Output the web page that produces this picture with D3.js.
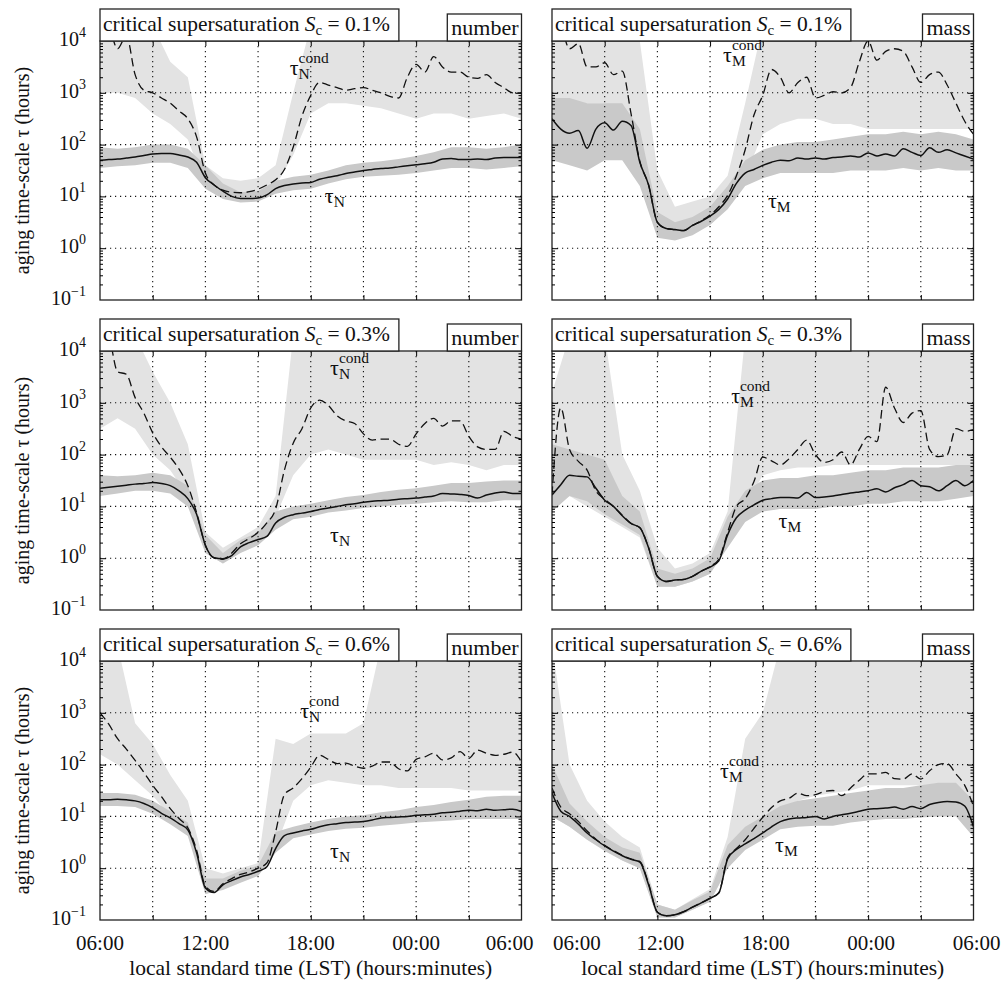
<!DOCTYPE html>
<html>
<head>
<meta charset="utf-8">
<script src="https://cdn.jsdelivr.net/npm/d3@7/dist/d3.min.js"></script>
<style>
    body { margin: 0; background: #fff; }
    svg text { font-family: "Liberation Serif", "Times New Roman", serif; fill: #111; }
</style>
</head>
<body>
<svg id="chart" width="1002" height="982"></svg>
<script>
// time axis: hours after 06:00 LST; curves read every half hour, gray bands every hour
var halfHours = d3.range(0, 24.5, 0.5);
var wholeHours = d3.range(0, 25, 1);
var tickHours = [0, 6, 12, 18, 24];
var tickNames = ["06:00", "12:00", "18:00", "00:00", "06:00"];
var gridHours = [3, 6, 9, 12, 15, 18, 21];
var decades = [-1, 0, 1, 2, 3, 4];
var supersat = ["0.1", "0.3", "0.6"];
var kinds = ["number", "mass"];
var subs = ["N", "M"];

// every value below is log10 of the aging time-scale in hours

// Sc = 0.1 %, number
var lgTauN01 = [1.70,1.71,1.72,1.74,1.76,1.79,1.82,1.83,1.83,1.80,1.76,1.66,1.36,1.22,1.10,1.00,0.96,0.96,0.97,1.03,1.15,1.21,1.24,1.26,1.27,1.33,1.37,1.40,1.44,1.47,1.50,1.52,1.54,1.55,1.57,1.59,1.61,1.63,1.66,1.72,1.73,1.71,1.71,1.72,1.71,1.74,1.75,1.75,1.75];
var lgCondN01 = [4.5,4.3,3.85,4.1,3.35,3.05,3.0,2.9,2.8,2.65,2.5,2.15,1.45,1.22,1.12,1.08,1.07,1.09,1.14,1.22,1.32,1.52,1.95,2.55,2.95,3.2,3.15,3.1,3.05,3.08,3.1,3.05,3.0,2.93,2.9,3.3,3.55,3.4,3.7,3.5,3.4,3.4,3.3,3.28,3.35,3.2,3.1,3.0,3.0];
var condLoN01 = [3.0,3.0,2.9,2.6,2.4,2.1,1.2,1.0,0.95,1.0,1.2,1.8,2.6,2.8,2.8,2.75,2.7,2.6,2.5,2.6,2.6,2.5,2.55,2.6,2.5];
var condHiN01 = [4.3,4.3,4.3,4.3,3.6,3.3,1.6,1.35,1.3,1.35,1.6,3.0,4.3,4.3,4.3,4.3,4.3,4.3,4.3,4.3,4.3,4.3,4.3,4.3,4.3];
var tauLoN01 = [1.55,1.58,1.6,1.65,1.65,1.55,1.15,0.95,0.88,0.9,1.05,1.12,1.15,1.25,1.33,1.38,1.4,1.42,1.45,1.5,1.55,1.55,1.52,1.55,1.58];
var tauHiN01 = [1.95,1.92,1.95,2.0,2.0,1.92,1.6,1.25,1.08,1.1,1.3,1.38,1.42,1.5,1.6,1.65,1.68,1.72,1.78,1.85,1.95,1.95,1.92,1.95,2.0];

// Sc = 0.1 %, mass
var lgTauM01 = [2.5,2.3,2.22,2.27,1.93,2.3,2.42,2.28,2.45,2.37,1.66,1.22,0.5,0.38,0.36,0.34,0.44,0.52,0.62,0.75,0.95,1.25,1.45,1.52,1.6,1.66,1.7,1.69,1.74,1.72,1.74,1.72,1.75,1.76,1.78,1.76,1.84,1.78,1.82,1.78,1.92,1.85,1.79,1.94,1.85,1.9,1.84,1.78,1.72];
var lgCondM01 = [4.5,4.3,3.85,3.95,3.5,3.5,3.58,3.35,3.42,2.6,1.68,1.22,0.5,0.38,0.36,0.34,0.44,0.53,0.64,0.8,1.02,1.4,1.9,2.57,2.95,3.45,3.3,3.0,3.2,3.3,2.9,2.95,3.02,3.0,3.1,3.6,4.0,3.63,3.8,3.85,3.8,3.5,3.2,3.35,3.4,3.15,2.8,2.45,2.2];
var condLoM01 = [2.6,2.8,2.8,2.8,2.6,1.5,0.4,0.3,0.4,0.6,0.9,1.4,2.2,2.4,2.5,2.5,2.4,2.4,2.3,2.3,2.3,2.3,2.3,2.3,2.3];
var condHiM01 = [4.3,4.3,4.3,4.3,4.3,4.0,1.5,0.8,0.9,1.0,1.4,2.8,4.3,4.3,4.3,4.3,4.3,4.3,4.3,4.3,4.3,4.3,4.3,4.3,4.3];
var tauLoM01 = [1.7,1.6,1.5,1.7,1.7,1.2,0.2,0.15,0.25,0.45,0.75,1.2,1.35,1.45,1.45,1.45,1.45,1.5,1.5,1.5,1.55,1.5,1.55,1.5,1.5];
var tauHiM01 = [2.9,2.9,2.8,2.8,2.8,2.3,0.7,0.5,0.6,0.8,1.2,1.7,1.9,2.0,2.05,2.05,2.1,2.15,2.2,2.2,2.25,2.2,2.25,2.2,2.1];

// Sc = 0.3 %, number
var lgTauN03 = [1.35,1.37,1.39,1.41,1.43,1.44,1.46,1.44,1.40,1.3,1.15,0.85,0.25,0.01,-0.01,0.05,0.22,0.3,0.36,0.42,0.68,0.79,0.84,0.87,0.9,0.94,0.97,1.0,1.03,1.05,1.08,1.1,1.11,1.12,1.14,1.15,1.16,1.18,1.2,1.25,1.24,1.23,1.21,1.16,1.22,1.26,1.28,1.25,1.25];
var lgCondN03 = [4.5,4.3,3.6,3.55,3.1,2.8,2.42,2.15,1.95,1.72,1.4,0.88,0.25,0.0,-0.02,0.1,0.28,0.38,0.5,0.68,0.95,1.7,2.22,2.5,2.9,3.05,2.95,2.75,2.65,2.6,2.4,2.28,2.3,2.3,2.2,2.16,2.4,2.6,2.7,2.55,2.65,2.65,2.35,2.15,2.1,2.1,2.45,2.35,2.3];
var condLoN03 = [2.5,2.7,2.5,2.0,1.7,1.2,0.1,-0.1,0.15,0.3,0.8,1.6,2.0,2.1,2.0,1.9,1.9,1.9,1.9,1.8,1.85,1.8,1.7,1.8,1.8];
var condHiN03 = [4.3,4.3,4.3,3.6,3.0,2.2,0.5,0.2,0.4,0.6,1.2,4.3,4.3,4.3,4.3,4.3,4.3,4.3,4.3,4.3,4.3,4.3,4.3,4.3,4.3];
var tauLoN03 = [1.2,1.25,1.3,1.3,1.25,1.0,0.1,-0.1,0.1,0.25,0.55,0.75,0.8,0.88,0.92,0.97,1.0,1.03,1.05,1.08,1.1,1.08,1.08,1.12,1.12];
var tauHiN03 = [1.6,1.58,1.6,1.65,1.6,1.4,0.45,0.1,0.35,0.5,0.9,1.0,1.05,1.12,1.18,1.22,1.28,1.32,1.35,1.4,1.45,1.45,1.48,1.5,1.5];

// Sc = 0.3 %, mass
var lgTauM03 = [1.22,1.42,1.6,1.58,1.57,1.35,1.12,1.0,0.82,0.67,0.59,0.2,-0.35,-0.45,-0.42,-0.41,-0.35,-0.25,-0.17,-0.05,0.45,0.78,0.93,1.03,1.12,1.15,1.17,1.17,1.16,1.27,1.17,1.18,1.2,1.23,1.26,1.28,1.3,1.34,1.28,1.36,1.42,1.5,1.4,1.38,1.3,1.4,1.5,1.4,1.5];
var lgCondM03 = [1.22,2.9,2.1,1.87,1.7,1.3,1.14,1.0,0.83,0.67,0.59,0.2,-0.35,-0.45,-0.42,-0.41,-0.35,-0.25,-0.16,-0.02,0.5,1.0,1.15,1.48,1.95,1.88,1.8,1.92,2.1,2.28,2.0,1.85,1.9,2.05,1.8,2.1,2.35,2.25,3.3,2.9,2.62,2.8,2.85,2.1,1.96,2.0,2.5,2.45,2.48];
var condLoM03 = [1.0,1.2,1.0,0.8,0.6,0.4,-0.55,-0.55,-0.45,-0.3,0.3,1.0,1.6,1.7,1.75,1.75,1.8,1.8,1.8,1.8,1.8,1.8,1.8,1.8,1.8];
var condHiM03 = [3.2,4.3,4.3,4.3,2.0,1.3,0.2,-0.2,-0.1,0.1,0.9,4.3,4.3,4.3,4.3,4.3,4.3,4.3,4.3,4.3,4.3,4.3,4.3,4.3,4.3];
var tauLoM03 = [0.9,1.2,1.1,0.85,0.65,0.45,-0.55,-0.55,-0.45,-0.3,0.2,0.7,0.9,0.95,0.95,0.95,1.0,1.0,1.05,1.05,1.1,1.1,1.1,1.15,1.2];
var tauHiM03 = [2.2,2.1,2.0,1.9,1.2,0.9,-0.2,-0.3,-0.2,0.0,0.8,1.3,1.5,1.55,1.55,1.6,1.6,1.65,1.7,1.7,1.75,1.75,1.75,1.8,1.8];

// Sc = 0.6 %, number
var lgTauN06 = [1.32,1.32,1.33,1.32,1.3,1.25,1.17,1.06,0.97,0.86,0.74,0.3,-0.38,-0.47,-0.32,-0.24,-0.17,-0.12,-0.06,0.03,0.38,0.63,0.68,0.72,0.75,0.8,0.84,0.86,0.88,0.89,0.9,0.93,0.97,0.98,0.99,1.0,1.02,1.03,1.04,1.07,1.08,1.1,1.12,1.11,1.14,1.12,1.13,1.14,1.1];
var lgCondN06 = [3.0,2.78,2.5,2.3,2.08,1.85,1.6,1.38,1.15,0.96,0.78,0.35,-0.35,-0.45,-0.3,-0.2,-0.12,-0.07,0.0,0.1,0.7,1.42,1.55,1.73,1.95,2.18,2.1,2.02,2.03,1.97,1.93,1.97,2.05,2.05,1.92,1.88,2.1,2.15,2.22,2.09,2.13,2.25,2.12,2.28,2.22,2.18,2.2,2.24,2.05];
var condLoN06 = [2.2,2.0,1.7,1.4,1.0,0.7,-0.5,-0.4,-0.25,-0.12,0.4,1.3,1.6,1.7,1.65,1.6,1.6,1.55,1.55,1.55,1.55,1.5,1.5,1.5,1.5];
var condHiN06 = [4.3,4.3,2.8,2.4,1.8,1.3,0.0,-0.1,0.0,0.1,2.5,2.4,2.6,2.6,2.6,2.8,4.3,4.3,4.3,4.3,4.3,4.3,4.3,4.3,4.3];
var tauLoN06 = [1.2,1.2,1.18,1.05,0.85,0.62,-0.5,-0.42,-0.28,-0.15,0.3,0.58,0.65,0.72,0.76,0.78,0.82,0.85,0.88,0.9,0.92,0.95,0.95,0.95,0.95];
var tauHiN06 = [1.45,1.45,1.42,1.3,1.1,0.88,-0.2,-0.2,-0.05,0.05,0.7,0.8,0.88,0.95,1.0,1.02,1.08,1.12,1.18,1.22,1.28,1.32,1.38,1.4,1.4];

// Sc = 0.6 %, mass
var lgTauM06 = [1.45,1.1,1.0,0.85,0.68,0.55,0.43,0.33,0.24,0.17,0.12,-0.32,-0.85,-0.92,-0.9,-0.84,-0.75,-0.67,-0.58,-0.48,0.18,0.36,0.47,0.57,0.68,0.8,0.9,0.95,0.97,0.98,1.0,0.95,1.0,1.03,1.06,1.1,1.14,1.15,1.16,1.18,1.14,1.19,1.15,1.23,1.27,1.29,1.28,1.2,0.8];
var lgCondM06 = [1.55,1.18,1.05,0.9,0.72,0.56,0.44,0.34,0.25,0.18,0.13,-0.3,-0.85,-0.92,-0.9,-0.84,-0.75,-0.67,-0.58,-0.47,0.2,0.38,0.55,0.77,0.98,1.17,1.3,1.35,1.45,1.4,1.42,1.48,1.5,1.4,1.55,1.7,1.82,1.82,1.85,1.73,1.72,1.82,1.72,1.88,2.0,2.02,1.82,1.6,1.2];
var condLoM06 = [1.0,0.8,0.55,0.35,0.15,0.0,-0.95,-0.95,-0.8,-0.65,0.0,0.4,0.7,1.1,1.3,1.4,1.45,1.5,1.6,1.6,1.6,1.6,1.6,1.55,1.2];
var condHiM06 = [4.3,2.0,1.3,0.9,0.6,0.4,-0.7,-0.8,-0.6,-0.4,0.6,2.5,3.0,4.3,4.3,4.3,4.3,4.3,4.3,4.3,4.3,4.3,4.3,4.3,4.3];
var tauLoM06 = [1.0,0.8,0.55,0.33,0.15,0.0,-0.95,-0.95,-0.8,-0.65,0.0,0.35,0.55,0.75,0.8,0.82,0.82,0.88,0.92,0.95,0.95,0.98,1.0,1.0,0.6];
var tauHiM06 = [2.0,1.25,0.9,0.6,0.4,0.3,-0.7,-0.8,-0.62,-0.45,0.45,0.8,1.0,1.2,1.3,1.35,1.4,1.45,1.5,1.55,1.55,1.6,1.65,1.65,1.3];

// grouped by row (Sc) then column (number, mass)
var tauLines = [[lgTauN01, lgTauM01], [lgTauN03, lgTauM03], [lgTauN06, lgTauM06]];
var condLines = [[lgCondN01, lgCondM01], [lgCondN03, lgCondM03], [lgCondN06, lgCondM06]];
var condLo = [[condLoN01, condLoM01], [condLoN03, condLoM03], [condLoN06, condLoM06]];
var condHi = [[condHiN01, condHiM01], [condHiN03, condHiM03], [condHiN06, condHiM06]];
var tauLo = [[tauLoN01, tauLoM01], [tauLoN03, tauLoM03], [tauLoN06, tauLoM06]];
var tauHi = [[tauHiN01, tauHiM01], [tauHiN03, tauHiM03], [tauHiN06, tauHiM06]];

// where the curve names sit: [hour, log10 tau]
var condNameAt = [[[10.8, 3.34], [9.74, 3.59]], [[13.1, 3.54], [10.2, 3.0]], [[11.4, 2.9], [9.57, 1.74]]];
var tauNameAt = [[[12.8, 0.87], [12.3, 0.78]], [[13.1, 0.32], [12.9, 0.58]], [[13.1, 0.2], [12.7, 0.31]]];

var colX = [100, 552];
var rowY = [41, 351, 661];
var panelW = 421.5;
var panelH = 259;

var svg = d3.select("#chart");
var defs = svg.append("defs");

function lg(v) {
    return Math.pow(10, v);
}

function drawPanel(row, col) {
    var x0 = colX[col];
    var y0 = rowY[row];
    var x = d3.scaleLinear().domain([0, 24]).range([x0, x0 + panelW]);
    var y = d3.scaleLog().domain([0.1, 1e4]).range([y0 + panelH, y0]);
    var clipId = "clip-" + row + "-" + col;

    defs.append("clipPath")
        .attr("id", clipId)
        .append("rect")
        .attr("x", x0)
        .attr("y", y0)
        .attr("width", panelW)
        .attr("height", panelH);

    var g = svg.append("g");
    var plot = g.append("g").attr("clip-path", "url(#" + clipId + ")");

    // gray bands of the raw values
    var band = function(lo, hi) {
        return d3.area()
            .x(h => x(h))
            .y0((h, i) => y(lg(lo[i])))
            .y1((h, i) => y(lg(hi[i])))(wholeHours);
    };
    plot.append("path")
        .attr("d", band(condLo[row][col], condHi[row][col]))
        .attr("fill", "#e3e3e3");
    plot.append("path")
        .attr("d", band(tauLo[row][col], tauHi[row][col]))
        .attr("fill", "#c9c9c9");

    // dotted grid
    g.selectAll(".vgrid")
        .data(gridHours)
        .enter()
        .append("line")
        .attr("x1", d => x(d))
        .attr("x2", d => x(d))
        .attr("y1", y0)
        .attr("y2", y0 + panelH)
        .attr("stroke", "#111")
        .attr("stroke-width", 1.1)
        .attr("stroke-dasharray", "1.2,3.8");
    g.selectAll(".hgrid")
        .data([0, 1, 2, 3])
        .enter()
        .append("line")
        .attr("x1", x0)
        .attr("x2", x0 + panelW)
        .attr("y1", d => y(lg(d)))
        .attr("y2", d => y(lg(d)))
        .attr("stroke", "#111")
        .attr("stroke-width", 1.1)
        .attr("stroke-dasharray", "1.2,3.8");

    // smoothed curves
    var curve = d3.line()
        .x((v, i) => x(halfHours[i]))
        .y(v => y(lg(v)))
        .curve(d3.curveMonotoneX);
    plot.append("path")
        .attr("d", curve(condLines[row][col]))
        .attr("fill", "none")
        .attr("stroke", "#111")
        .attr("stroke-width", 1.3)
        .attr("stroke-dasharray", "8.5,4.5");
    plot.append("path")
        .attr("d", curve(tauLines[row][col]))
        .attr("fill", "none")
        .attr("stroke", "#111")
        .attr("stroke-width", 1.5);

    // frame and inward ticks
    g.append("rect")
        .attr("x", x0)
        .attr("y", y0)
        .attr("width", panelW)
        .attr("height", panelH)
        .attr("fill", "none")
        .attr("stroke", "#222")
        .attr("stroke-width", 1.3);

    g.append("g")
        .attr("transform", "translate(0," + (y0 + panelH) + ")")
        .call(d3.axisBottom(x).tickValues(gridHours).tickSize(-5).tickFormat(""))
        .call(a => a.select(".domain").remove());
    g.append("g")
        .attr("transform", "translate(0," + y0 + ")")
        .call(d3.axisTop(x).tickValues(gridHours).tickSize(-5).tickFormat(""))
        .call(a => a.select(".domain").remove());

    var majors = [0, 1, 2, 3].map(lg);
    var minors = y.ticks().filter(v => Math.abs(Math.log10(v) - Math.round(Math.log10(v))) > 1e-6);
    [[d3.axisLeft, x0], [d3.axisRight, x0 + panelW]].forEach(function(side) {
        g.append("g")
            .attr("transform", "translate(" + side[1] + ",0)")
            .call(side[0](y).tickValues(majors).tickSize(-6).tickFormat(""))
            .call(a => a.select(".domain").remove());
        g.append("g")
            .attr("transform", "translate(" + side[1] + ",0)")
            .call(side[0](y).tickValues(minors).tickSize(-3).tickFormat(""))
            .call(a => a.select(".domain").remove());
    });

    // y tick labels on the left column
    if (col === 0) {
        decades.forEach(function(k) {
            var t = g.append("text")
                .attr("x", x0 - 14)
                .attr("y", y(lg(k)) + 5)
                .attr("text-anchor", "end")
                .style("font-size", "20px");
            t.append("tspan").text("10");
            t.append("tspan")
                .attr("dy", -9)
                .style("font-size", "14px")
                .text(k < 0 ? "\u2212" + (-k) : k);
        });
        svg.append("text")
            .attr("transform", "translate(29," + (y0 + panelH / 2) + ") rotate(-90)")
            .attr("text-anchor", "middle")
            .style("font-size", "20px")
            .text("aging time-scale \u03c4 (hours)");
    }

    // time labels on the bottom row; the labels at the shared gap are pushed apart
    if (row === 2) {
        g.selectAll(".tlab")
            .data(tickHours)
            .enter()
            .append("text")
            .attr("x", function(d, i) {
                if (col === 0 && i === 4) return x(d) + 12;
                if (col === 1 && i === 0) return x(d) + 1;
                if (col === 1 && i === 4) return x(d) + 27;
                return x(d) + (col === 1 ? 3 : 0);
            })
            .attr("y", y0 + panelH + 30)
            .attr("text-anchor", function(d, i) {
                if (col === 0 && i === 4) return "end";
                if (col === 1 && i === 0) return "start";
                if (col === 1 && i === 4) return "end";
                return "middle";
            })
            .style("font-size", "21px")
            .text((d, i) => tickNames[i]);
        g.append("text")
            .attr("x", x0 + panelW / 2)
            .attr("y", y0 + panelH + 55)
            .attr("text-anchor", "middle")
            .style("font-size", "21.5px")
            .text("local standard time (LST) (hours:minutes)");
    }

    // boxed title with the supersaturation
    var titleBox = g.append("rect");
    var title = g.append("text")
        .attr("x", x0 + 3)
        .attr("y", y0 - 10)
        .style("font-size", "21.5px");
    title.append("tspan").text("critical supersaturation ");
    title.append("tspan").style("font-style", "italic").text("S");
    title.append("tspan").attr("dy", 4).style("font-size", "15px").text("c");
    title.append("tspan").attr("dy", -4).text(" = " + supersat[row] + "%");
    var tw = title.node().getComputedTextLength();
    titleBox
        .attr("x", x0)
        .attr("y", y0 - 32)
        .attr("width", tw + 12)
        .attr("height", 32)
        .attr("fill", "#fff")
        .attr("stroke", "#222")
        .attr("stroke-width", 1.3);

    // boxed number / mass tag at the right
    var tagBox = g.append("rect");
    var tag = g.append("text")
        .attr("x", x0 + panelW - 3)
        .attr("y", y0 - 6)
        .attr("text-anchor", "end")
        .style("font-size", "22px")
        .text(kinds[col]);
    var kw = tag.node().getComputedTextLength();
    tagBox
        .attr("x", x0 + panelW - kw - 7)
        .attr("y", y0 - 27)
        .attr("width", kw + 7)
        .attr("height", 27)
        .attr("fill", "#fff")
        .attr("stroke", "#222")
        .attr("stroke-width", 1.3);

    // curve names
    var cAt = condNameAt[row][col];
    var tAt = tauNameAt[row][col];
    curveName(g, x(cAt[0]), y(lg(cAt[1])), subs[col], true);
    curveName(g, x(tAt[0]), y(lg(tAt[1])), subs[col], false);
}

function curveName(g, px, py, sub, cond) {
    var tau = g.append("text")
        .attr("x", px)
        .attr("y", py)
        .style("font-size", "22px")
        .text("\u03c4");
    var w = tau.node().getComputedTextLength();
    g.append("text")
        .attr("x", px + w)
        .attr("y", py + 4)
        .style("font-size", "15.5px")
        .text(sub);
    if (cond) {
        g.append("text")
            .attr("x", px + w)
            .attr("y", py - 12)
            .style("font-size", "15.5px")
            .text("cond");
    }
}

[0, 1, 2].forEach(function(row) {
    [0, 1].forEach(function(col) {
        drawPanel(row, col);
    });
});
</script>
</body>
</html>
